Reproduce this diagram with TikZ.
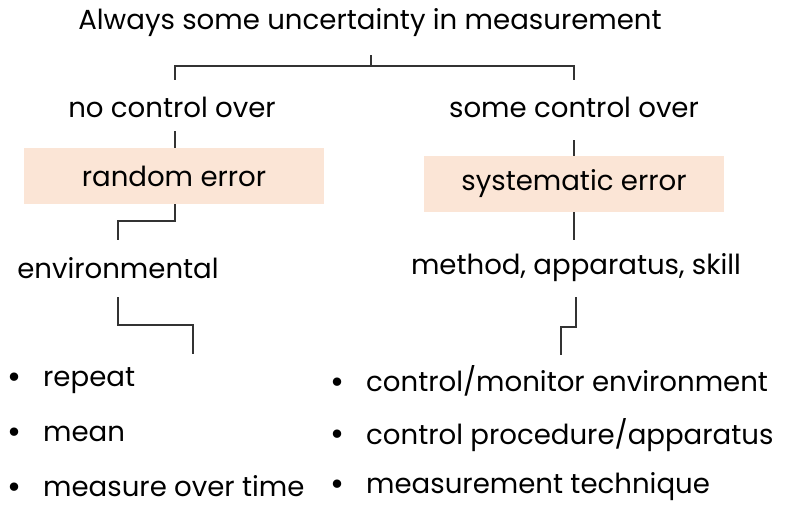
\documentclass[tikz,border=0pt]{standalone}
\usepackage{fontspec}
\setmainfont{Poppins}
\definecolor{peach}{HTML}{FBE5D6}
\definecolor{linegray}{HTML}{333333}
\newcommand{\bulletitem}[1]{\makebox[36pt][l]{\raisebox{-1.5pt}{\fontsize{34}{34}\selectfont •}}#1}
\begin{document}
\begin{tikzpicture}[x=1pt,y=-1pt,
  txt/.style={inner sep=0pt,font=\fontsize{27.6}{32}\selectfont,text=black},
  boxed/.style={txt,fill=peach,minimum width=300pt,minimum height=56pt},
  conn/.style={draw=linegray,line width=1.3pt},
  bul/.style={txt,anchor=west}]
\useasboundingbox (0,0) rectangle (792,512);
\node[txt] (title) at (370,23) {Always some uncertainty in measurement};
\node[txt] (noc) at (172,107) {no control over};
\node[txt] (somec) at (574,107) {some control over};
\node[boxed] (rand) at (174,176) {random error};
\node[boxed] (sys) at (574,184) {systematic error};
\node[txt] (env) at (118,268) {environmental};
\node[txt] (meth) at (576,268) {method, apparatus, skill};
\node[bul] (b1) at (7,381) {\bulletitem{repeat}};
\node[bul] (b2) at (7,435) {\bulletitem{mean}};
\node[bul] (b3) at (7,487) {\bulletitem{measure over time}};
\node[bul] (c1) at (330,381) {\bulletitem{control/monitor environment}};
\node[bul] (c2) at (330,435) {\bulletitem{control procedure/apparatus}};
\node[bul] (c3) at (330,487) {\bulletitem{measurement technique}};
\coordinate (t0) at (371,55);
\coordinate (lnoc) at (175,80);
\coordinate (lsom) at (574,80);
\draw[conn] (t0) -- (371,66) -| (lnoc);
\draw[conn] (371,66) -| (lsom);
\draw[conn] (175,131) -- (rand.north -| 175,0);
\draw[conn] (574,140) -- (sys.north);
\coordinate (e0) at (118,240);
\draw[conn] (rand.south -| 175,0) -- (175,221) -| (e0);
\coordinate (m0) at (574,240);
\draw[conn] (sys.south) -- (m0);
\coordinate (e1) at (118,297);
\coordinate (e2) at (193,354);
\draw[conn] (e1) -- (118,325) -| (e2);
\coordinate (m1) at (576,297);
\coordinate (m2) at (561,355);
\draw[conn] (m1) -- (576,327) -| (m2);
\end{tikzpicture}
\end{document}
